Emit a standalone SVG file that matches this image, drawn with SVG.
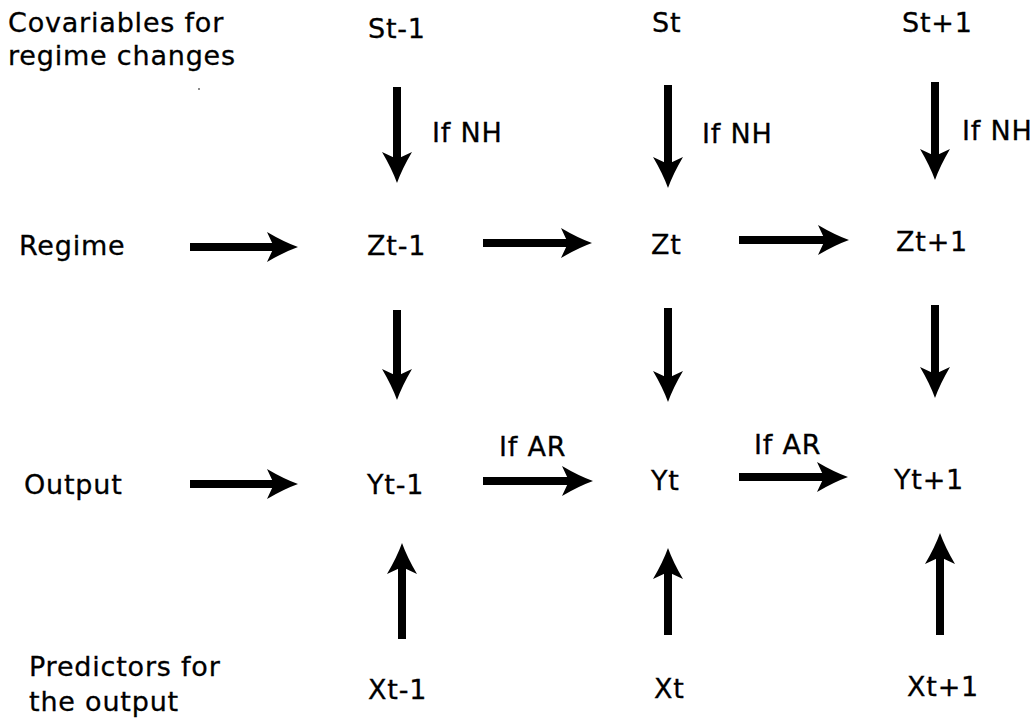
<svg xmlns="http://www.w3.org/2000/svg" width="1035" height="722" viewBox="0 0 1035 722">
<style>
text{font-family:"DejaVu Sans",sans-serif;font-size:27px;fill:#000;letter-spacing:0.8px;stroke:#000;stroke-width:0.3px}
.a{stroke:#000;stroke-width:8;fill:none;marker-end:url(#ah)}
</style>
<defs>
<marker id="ah" markerUnits="userSpaceOnUse" viewBox="-32 -16 33 32" refX="-24" refY="0" markerWidth="33" markerHeight="32" orient="auto">
<path d="M0,0 Q-14,-5 -31,-15 L-24,0 L-31,15 Q-14,5 0,0 Z" fill="#000"/>
</marker>
</defs>
<rect width="1035" height="722" fill="#fff"/>
<g id="labels">
<text x="8" y="32">Covariables for</text>
<text x="8" y="65">regime changes</text>
<text x="19" y="255">Regime</text>
<text x="24" y="494">Output</text>
<text x="29" y="676">Predictors for</text>
<text x="29" y="711">the output</text>
</g>
<g id="St-1"><text x="368" y="38">St-1</text></g>
<g id="St"><text x="652" y="32">St</text></g>
<g id="St+1"><text x="902" y="32">St+1</text></g>
<g id="Zt-1"><text x="367" y="255">Zt-1</text></g>
<g id="Zt"><text x="651" y="254">Zt</text></g>
<g id="Zt+1"><text x="896" y="251">Zt+1</text></g>
<g id="Yt-1"><text x="367" y="494">Yt-1</text></g>
<g id="Yt"><text x="651" y="490">Yt</text></g>
<g id="Yt+1"><text x="894" y="489">Yt+1</text></g>
<g id="Xt-1"><text x="368" y="699">Xt-1</text></g>
<g id="Xt"><text x="654" y="698">Xt</text></g>
<g id="Xt+1"><text x="907" y="696">Xt+1</text></g>
<g id="connectors">
<line class="a" x1="397" y1="87" x2="397" y2="159"/>
<line class="a" x1="668" y1="85" x2="668" y2="164"/>
<line class="a" x1="935" y1="82" x2="935" y2="156"/>
<line class="a" x1="190" y1="247" x2="274" y2="247"/>
<line class="a" x1="483" y1="243" x2="568" y2="243"/>
<line class="a" x1="739" y1="240" x2="825" y2="240"/>
<line class="a" x1="397" y1="310" x2="397" y2="376"/>
<line class="a" x1="668" y1="308" x2="668" y2="378"/>
<line class="a" x1="935" y1="305" x2="935" y2="374"/>
<line class="a" x1="190" y1="484" x2="274" y2="484"/>
<line class="a" x1="483" y1="481" x2="569" y2="481"/>
<line class="a" x1="739" y1="477" x2="824" y2="477"/>
<line class="a" x1="402" y1="639" x2="402" y2="567"/>
<line class="a" x1="668" y1="635" x2="668" y2="572"/>
<line class="a" x1="940" y1="635" x2="940" y2="557"/>
<text x="432" y="142">If NH</text>
<text x="702" y="143">If NH</text>
<text x="962" y="140">If NH</text>
<text x="499" y="456">If AR</text>
<text x="754" y="454">If AR</text>
</g>
<circle cx="199" cy="89" r="1" fill="#666"/>
</svg>
